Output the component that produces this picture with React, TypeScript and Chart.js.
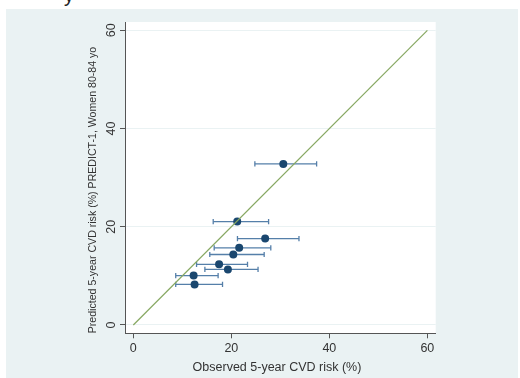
import React, { useEffect, useRef } from "react";
import { Chart, registerables } from "chart.js";

Chart.register(...registerables);

// Observed (x) and predicted (y) 5-year CVD risk, with observed 95% CI
const observed = [30.6, 21.2, 26.9, 21.6, 20.4, 17.5, 19.3, 12.3, 12.5];
const predicted = [32.8, 21.05, 17.6, 15.7, 14.35, 12.35, 11.3, 10.05, 8.25];
const ciLow = [24.8, 16.3, 21.25, 16.5, 15.6, 12.9, 14.6, 8.65, 8.65];
const ciHigh = [37.4, 27.6, 33.8, 28.05, 26.7, 23.3, 25.45, 17.3, 18.2];
const tickValues = [0, 20, 40, 60];
const refLine = [0, 60];

const xTitle = "Observed 5-year CVD risk (%)";
const yTitle = "Predicted 5-year CVD risk (%) PREDICT-1, Women 80-84 yo";

const FONT = '"Liberation Sans", Arial, sans-serif';

export default function App() {
  const ref = useRef<HTMLCanvasElement | null>(null);

  useEffect(() => {
    document.body.style.margin = "0";
    const canvas = ref.current;
    if (!canvas) return;

    const errorSets = observed.map((_, i) => ({
      type: "line" as const,
      data: [
        { x: ciLow[i], y: predicted[i] },
        { x: ciHigh[i], y: predicted[i] },
      ],
      borderColor: "#557fa9",
      borderWidth: 1.3,
      pointStyle: "line" as const,
      pointRotation: 90,
      pointRadius: 2.6,
      pointBorderColor: "#557fa9",
      pointBorderWidth: 1.3,
      pointHoverRadius: 2.6,
      order: 3,
    }));

    const titlesPlugin = {
      id: "stataTitles",
      afterDraw(chart: any) {
        const ctx = chart.ctx;
        ctx.save();
        ctx.fillStyle = "#333";
        ctx.textAlign = "center";
        ctx.textBaseline = "middle";
        ctx.font = `12.5px ${FONT}`;
        ctx.fillText(xTitle, 271, 359);
        ctx.translate(87, 181);
        ctx.rotate(-Math.PI / 2);
        ctx.font = `10.6px ${FONT}`;
        ctx.fillText(yTitle, 0, 0);
        ctx.restore();
      },
    };

    const chart = new Chart(canvas, {
      type: "scatter",
      data: {
        datasets: [
          {
            type: "line",
            data: refLine.map((v) => ({ x: v, y: v })),
            borderColor: "#87a862",
            borderWidth: 1.2,
            pointRadius: 0,
            order: 1,
          } as any,
          {
            type: "scatter",
            data: observed.map((x, i) => ({ x, y: predicted[i] })),
            backgroundColor: "#1a476f",
            borderColor: "#1a476f",
            borderWidth: 0,
            pointRadius: 4,
            pointHoverRadius: 4,
            order: 2,
          } as any,
          ...errorSets,
        ],
      },
      options: {
        animation: false,
        responsive: false,
        maintainAspectRatio: false,
        events: [],
        layout: { padding: { top: 13, right: 82.3, left: 0, bottom: 0 } },
        plugins: {
          legend: { display: false },
          tooltip: { enabled: false },
        },
        scales: {
          x: {
            type: "linear",
            min: -1.7,
            max: 61.7,
            afterBuildTicks: (s: any) => {
              s.ticks = tickValues.map((v) => ({ value: v }));
            },
            afterFit: (s: any) => {
              s.height = 44.7;
            },
            grid: {
              drawOnChartArea: false,
              tickColor: "#555",
              tickLength: 5,
              tickWidth: 1,
            },
            border: { display: true, color: "#555", width: 1 },
            ticks: {
              color: "#333",
              padding: 3,
              font: { family: FONT, size: 12.5 },
              maxRotation: 0,
              autoSkip: false,
            },
          },
          y: {
            type: "linear",
            min: -1.7,
            max: 61.7,
            afterBuildTicks: (s: any) => {
              s.ticks = tickValues.map((v) => ({ value: v }));
            },
            afterFit: (s: any) => {
              s.width = 119;
            },
            grid: {
              color: "#eaf2f3",
              lineWidth: 1,
              tickColor: "#555",
              tickLength: 5,
              tickWidth: 1,
            },
            border: { display: true, color: "#555", width: 1 },
            ticks: {
              color: "#333",
              padding: 1.5,
              minRotation: 90,
              maxRotation: 90,
              crossAlign: "center",
              font: { family: FONT, size: 12.5 },
              autoSkip: false,
            },
          },
        },
      },
      plugins: [
        titlesPlugin,
        {
          id: "plotBg",
          beforeDraw(chart: any) {
            const { ctx, chartArea } = chart;
            ctx.save();
            ctx.fillStyle = "#ffffff";
            ctx.fillRect(
              chartArea.left,
              chartArea.top,
              chartArea.right - chartArea.left,
              chartArea.bottom - chartArea.top
            );
            ctx.restore();
          },
        },
      ],
    } as any);

    return () => chart.destroy();
  }, []);

  return (
    <div
      style={{
        position: "fixed",
        left: 0,
        top: 0,
        width: 520,
        height: 378,
        background: "#ffffff",
        overflow: "hidden",
      }}
    >
      <div
        style={{
          position: "absolute",
          left: 64,
          top: -15,
          font: `20px ${FONT}`,
          lineHeight: "20px",
          color: "#222",
        }}
      >
        y
      </div>
      <div
        style={{
          position: "absolute",
          left: 6,
          top: 9,
          width: 512,
          height: 369,
          background: "#eaf2f3",
        }}
      >
        <canvas ref={ref} width={512} height={369} style={{ display: "block" }} />
      </div>
    </div>
  );
}
